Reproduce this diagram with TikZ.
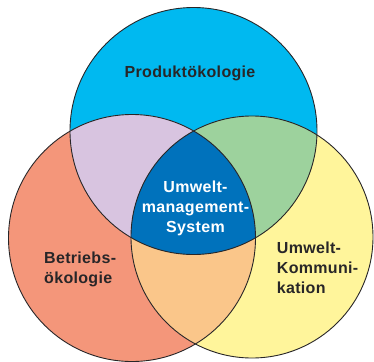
\documentclass[tikz,border=0pt]{standalone}
\usepackage{fontspec}
\newfontfamily\labfont[LetterSpace=2]{Liberation Sans}
\definecolor{cTop}{RGB}{0,185,240}
\definecolor{cLeft}{RGB}{244,150,122}
\definecolor{cRight}{RGB}{255,245,155}
\definecolor{cLT}{RGB}{216,196,224}
\definecolor{cTR}{RGB}{157,210,157}
\definecolor{cLR}{RGB}{250,198,138}
\definecolor{cAll}{RGB}{0,114,188}
\definecolor{cInk}{RGB}{40,38,40}
\tikzset{
  lab/.style={font=\labfont\bfseries\fontsize{16bp}{20bp}\selectfont, text=cInk, inner sep=0pt},
  edge/.style={draw=cInk, line width=0.9bp}
}
\begin{document}
\begin{tikzpicture}[x=1bp,y=-1bp]
\useasboundingbox (0,0) rectangle (374,362);
\def\topc{(193.5,131) circle[radius=123.5]}
\def\leftc{(132,238) circle[radius=123.5]}
\def\rightc{(252,237) circle[radius=121]}
\fill[cTop] \topc;
\fill[cLeft] \leftc;
\fill[cRight] \rightc;
\begin{scope}\clip \leftc; \fill[cLT] \topc; \end{scope}
\begin{scope}\clip \topc; \fill[cTR] \rightc; \end{scope}
\begin{scope}\clip \leftc; \fill[cLR] \rightc; \end{scope}
\begin{scope}\clip \leftc; \clip \rightc; \fill[cAll] \topc; \end{scope}
\draw[edge] \topc;
\draw[edge] \leftc;
\draw[edge] \rightc;
\node[lab, anchor=base] (prod) at (190,77.5) {Produktökologie};
\node[lab, anchor=base, align=center, text=white] (ums) at (195.5,232.7) {Umwelt-\\management-\\System};
\node[lab, anchor=base west, align=left] (betr) at (44,283.3) {Betriebs-\\ökologie};
\node[lab, anchor=base west, align=left] (komm) at (276.7,293.3) {Umwelt-\\Kommuni-\\kation};
\end{tikzpicture}
\end{document}
